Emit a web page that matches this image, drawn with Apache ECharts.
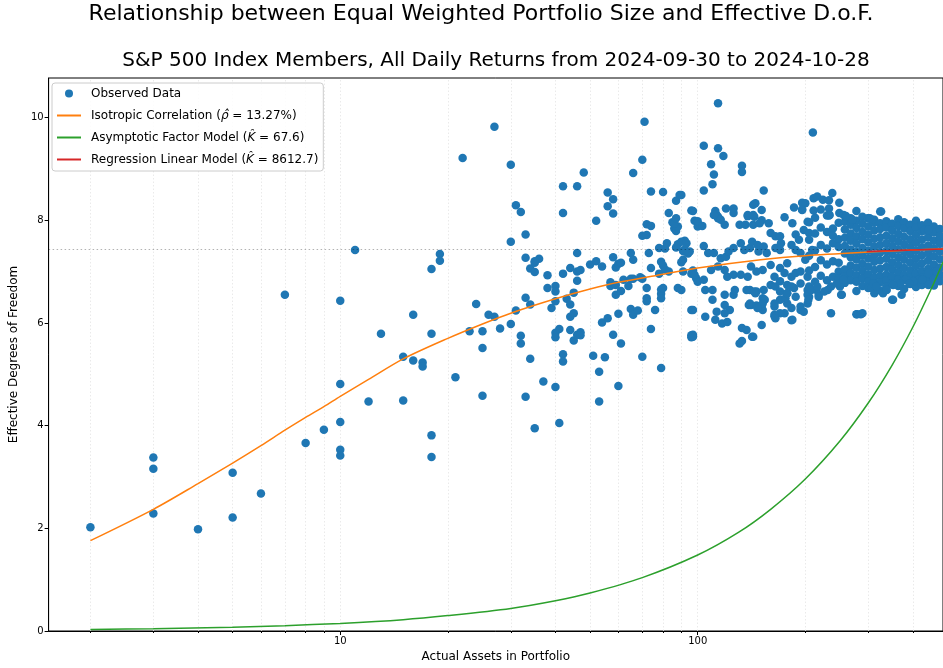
<!DOCTYPE html>
<html>
<head>
<meta charset="utf-8">
<title>Portfolio size vs effective degrees of freedom</title>
<script src="https://cdn.jsdelivr.net/npm/echarts@6/dist/echarts.min.js"></script>
<style>
  html, body { margin: 0; padding: 0; background: #fff; }
  #chart { width: 943px; height: 668px; }
</style>
</head>
<body>
<div id="chart"></div>
<script>
// -- observed points, [portfolio size, effective d.o.f.] --
let smallPortfolios = [
  [2, 2.02], [3, 3.38], [3, 3.16], [3, 2.29], [4, 1.98], [5, 3.08], [5, 2.21], [6, 2.68], [7, 6.55],
  [8, 3.66], [9, 3.92], [10, 6.43], [10, 4.81], [10, 4.07], [10, 3.53], [10, 3.42],
  [11, 7.42], [12, 4.47], [13, 5.79], [15, 5.34], [15, 4.49], [16, 6.16], [16, 5.27], [17, 5.23], [17, 5.15],
  [18, 7.05], [18, 5.79], [18, 3.81], [18, 3.39], [19, 7.34], [19, 7.21], [21, 4.94], [22, 9.21], [23, 5.84],
  [24, 6.37], [25, 5.84], [25, 5.51], [25, 4.58], [26, 6.16], [27, 6.12], [27, 9.82], [28, 5.89],
  [30, 9.08], [30, 7.58], [30, 5.98]
];

let midPortfolios = [
  [31, 8.29], [32, 8.16], [31, 6.24], [32, 5.75], [32, 5.60], [33, 7.72], [33, 7.27], [34, 7.06], [35, 7.17],
  [35, 6.99], [36, 7.25], [35, 7.20], [33, 6.49], [34, 6.36], [34, 5.30], [33, 4.56], [35, 3.95], [37, 4.86],
  [38, 6.93], [38, 6.68], [39, 6.29], [40, 6.72], [40, 6.61], [40, 6.42], [40, 5.81], [40, 5.72], [41, 5.88],
  [40, 4.75], [41, 4.05], [42, 8.66], [42, 8.14], [42, 6.96], [42, 5.39], [42, 5.25], [43, 6.47], [44, 6.36],
  [44, 7.07], [44, 6.12], [45, 6.19], [44, 5.86], [45, 6.59], [45, 5.66], [46, 8.66], [46, 7.36], [46, 7.00],
  [47, 7.03], [46, 6.82], [46, 5.77], [47, 5.82], [47, 5.76], [48, 8.93], [50, 7.14], [51, 5.36], [52, 7.99],
  [52, 7.20], [53, 5.05], [53, 4.47], [54, 7.10], [54, 6.01], [56, 6.09], [55, 5.33], [56, 8.54], [56, 8.27],
  [57, 6.79], [57, 6.72], [58, 8.41], [58, 8.13], [58, 7.28], [58, 5.77], [59, 7.08], [60, 7.15], [61, 7.17],
  [59, 6.74], [59, 6.55], [60, 6.18], [60, 4.77], [61, 5.60], [61, 6.62], [62, 6.84], [64, 6.72], [65, 6.86],
  [65, 7.36], [65, 6.27], [66, 6.16], [68, 6.24], [66, 8.92], [66, 7.23], [66, 6.86], [69, 6.89], [70, 6.86],
  [70, 9.18], [71, 9.92], [70, 5.34], [70, 7.70], [72, 7.71], [72, 7.92], [74, 7.89], [73, 7.36], [72, 6.68],
  [72, 6.48], [72, 6.42], [74, 8.56], [74, 7.07], [74, 5.88], [76, 6.25], [78, 7.46], [79, 7.19], [80, 7.12],
  [78, 6.96], [79, 6.65], [79, 6.57], [79, 6.48], [79, 5.12], [80, 8.55], [80, 6.68], [81, 7.45], [82, 7.55],
  [81, 7.04], [83, 7.00], [83, 8.14], [85, 7.96], [86, 7.84], [87, 7.79], [88, 7.88], [86, 7.93], [87, 8.38],
  [89, 8.49], [87, 8.04], [87, 7.47], [88, 7.53], [91, 7.40], [92, 7.43], [94, 7.35], [92, 7.60], [88, 6.68],
  [90, 7.18], [91, 7.00], [96, 8.19], [98, 7.99], [96, 6.96], [97, 7.02], [99, 6.87], [96, 6.25], [96, 5.76],
  [96, 5.72]
];

let largePortfolios = [
  [114, 10.28], [210, 9.71], [104, 9.45], [114, 9.40], [118, 9.25], [109, 9.09], [133, 9.06], [133, 8.94],
  [111, 8.89], [110, 8.70], [104, 8.58], [153, 8.58], [90, 8.49], [145, 8.33], [143, 8.30], [97, 8.18],
  [112, 8.18], [113, 8.10], [114, 8.07], [120, 8.23], [126, 8.23], [126, 8.14], [151, 8.20], [186, 8.25],
  [196, 8.20], [200, 8.33], [138, 8.08], [144, 8.07], [175, 8.06], [100, 7.88], [100, 6.80],
  [114, 8.04], [119, 7.91], [116, 8.01], [111, 8.10], [100, 7.98], [103, 7.89], [138, 8.10], [143, 8.10],
  [151, 8.00], [131, 7.91], [136, 7.91], [143, 7.91], [149, 7.94], [158, 7.94], [160, 7.75], [165, 7.69],
  [170, 7.69], [184, 7.94], [188, 7.72], [192, 7.62], [198, 7.81], [205, 7.75],
  [90, 7.58], [93, 7.55], [95, 7.39], [92, 7.39], [91, 7.23],
  [104, 7.50], [107, 7.36], [111, 7.36], [116, 7.26], [120, 7.29], [122, 7.39], [126, 7.46], [132, 7.55],
  [135, 7.42], [140, 7.46], [142, 7.58], [148, 7.39], [147, 7.52], [153, 7.49], [156, 7.36], [165, 7.46],
  [170, 7.42], [171, 7.55], [183, 7.52], [188, 7.42], [194, 7.36], [200, 7.23], [209, 7.42],
  [98, 6.94], [104, 6.84], [109, 7.03], [114, 7.10], [119, 7.03], [121, 6.90], [126, 6.94], [132, 6.94],
  [138, 6.90], [141, 7.10], [146, 7.00], [152, 7.03], [160, 7.13], [164, 6.90], [170, 7.07], [178, 7.16],
  [175, 6.97], [183, 6.90], [188, 6.97], [194, 7.00], [203, 6.90],
  [105, 6.64], [110, 6.64], [119, 6.55], [126, 6.55], [127, 6.64], [140, 6.64], [146, 6.61], [152, 6.48],
  [160, 6.74], [165, 6.71], [170, 6.61], [178, 6.58], [186, 6.68], [194, 6.77], [203, 6.64], [170, 6.81],
  [178, 6.74], [110, 6.45], [119, 6.35], [123, 6.25], [141, 6.35], [152, 6.25], [164, 6.32], [170, 6.45],
  [178, 6.38], [194, 6.25], [112, 6.06], [117, 5.99], [121, 6.02], [133, 5.90], [137, 5.86], [151, 5.96],
  [90, 6.64], [97, 6.25], [105, 6.12], [97, 5.77], [131, 5.60], [142, 5.73], [97, 5.73], [133, 5.65],
  [119, 6.19], [113, 6.22], [139, 6.35], [147, 6.32], [151, 6.33], [145, 6.58], [153, 6.64], [154, 6.45],
  [164, 6.38], [175, 6.19], [183, 6.29], [164, 6.13], [170, 6.19], [184, 6.06],
  [137, 6.64], [144, 6.61], [140, 6.38], [146, 6.34], [152, 6.38], [147, 6.29], [164, 6.16], [165, 6.09],
  [176, 6.48], [178, 6.58], [183, 6.71], [188, 6.51], [198, 6.22], [203, 6.38], [205, 6.51], [183, 6.05],
  [143, 5.73], [196, 8.34], [196, 8.21], [203, 7.97]
];

// dense cluster of the biggest portfolios, one row per size
let clusterSizes = [205, 213, 221, 230, 239, 248, 258, 268, 278, 289, 300, 312,
                    324, 337, 350, 364, 378, 393, 408, 424, 441, 458, 476, 492];
let clusterDof = [
  [7.96, 7.62, 7.31, 7.02, 6.71],
  [8.05, 7.74, 7.41, 7.09, 6.80],
  [7.86, 7.52, 7.22, 6.92],
  [8.09, 7.77, 7.45, 7.14, 6.83],
  [7.84, 7.70, 7.55, 7.20, 6.90],
  [7.95, 7.63, 7.48, 7.17, 7.00, 6.86],
  [7.97, 7.82, 7.66, 7.50, 7.35, 7.04, 6.91, 6.78],
  [8.04, 7.91, 7.74, 7.60, 7.43, 7.28, 7.12, 6.97, 6.83],
  [8.18, 7.99, 7.85, 7.69, 7.54, 7.38, 7.24, 7.08, 6.93, 6.80, 6.62, 6.17],
  [8.07, 7.93, 7.77, 7.63, 7.46, 7.31, 7.15, 7.01, 6.87, 6.72, 6.19],
  [8.04, 7.88, 7.72, 7.57, 7.41, 7.26, 7.10, 6.95, 6.81, 6.68],
  [8.01, 7.95, 7.80, 7.64, 7.49, 7.33, 7.19, 7.03, 6.89, 6.76, 6.58],
  [8.17, 7.94, 7.83, 7.67, 7.52, 7.37, 7.22, 7.06, 6.92, 6.79, 6.63],
  [7.98, 7.86, 7.70, 7.55, 7.40, 7.25, 7.09, 6.94, 6.83, 6.70],
  [7.93, 7.80, 7.65, 7.50, 7.34, 7.18, 7.04, 6.90, 6.77, 6.45],
  [8.02, 7.89, 7.73, 7.58, 7.43, 7.28, 7.13, 6.98, 6.85, 6.72],
  [7.96, 7.84, 7.68, 7.53, 7.38, 7.23, 7.07, 6.93, 6.84, 6.66],
  [7.91, 7.79, 7.63, 7.48, 7.33, 7.17, 7.02, 6.89, 6.76],
  [7.99, 7.86, 7.71, 7.56, 7.41, 7.26, 7.11, 6.96, 6.82, 6.70],
  [7.90, 7.78, 7.62, 7.47, 7.32, 7.16, 7.01, 6.88, 6.74],
  [7.95, 7.81, 7.67, 7.51, 7.36, 7.21, 7.05, 6.92, 6.79],
  [7.88, 7.76, 7.60, 7.45, 7.30, 7.14, 6.99, 6.86, 6.73],
  [7.83, 7.65, 7.70, 7.54, 7.39, 7.24, 7.08, 6.94, 6.81],
  [7.92, 7.73, 7.58, 7.42, 7.27, 7.12, 6.97, 6.84]
];
let clusterFringe = [
  [211, 8.43], [216, 8.46], [224, 8.40], [233, 8.39], [238, 8.53], [249, 8.34], [221, 8.21], [233, 8.23],
  [233, 8.09], [249, 8.14], [256, 8.10], [260, 8.08], [271, 8.01], [300, 8.04], [307, 8.01], [326, 8.17],
  [211, 8.19], [234, 8.10], [303, 8.04], [430, 7.81], [442, 7.81],
  [194, 6.32], [203, 6.55], [215, 6.64], [231, 6.64], [236, 6.19], [253, 6.55], [250, 6.71], [279, 6.17],
  [286, 6.17], [307, 6.68], [310, 6.77], [330, 6.58], [352, 6.45], [382, 6.84], [415, 6.84], [442, 6.74],
  [208, 6.64], [216, 6.71], [218, 6.55], [226, 6.61], [236, 6.71], [245, 6.77], [252, 6.55], [256, 6.84],
  [316, 6.71], [369, 6.77], [401, 6.81], [425, 6.84], [442, 6.97], [465, 7.00], [352, 6.74], [372, 6.55],
  [391, 6.77], [338, 6.64], [204, 6.45], [218, 6.51]
];

// -- model curves --
let isoSizes = [2, 3, 4, 5, 6, 7, 8, 9, 10, 12, 15, 20, 25, 30, 40, 50, 60, 80, 100, 150, 200, 300, 400, 486];
let isoDof = [1.76, 2.37, 2.87, 3.27, 3.61, 3.91, 4.16, 4.37, 4.57, 4.90, 5.30, 5.70, 5.98, 6.19, 6.47,
              6.66, 6.79, 6.95, 7.07, 7.23, 7.31, 7.38, 7.42, 7.44];
let factorSizes = [2, 3, 5, 7, 10, 15, 20, 30, 40, 50, 70, 100, 130, 160, 200, 250, 300, 350, 400, 450, 486];
let factorDof = [0.03, 0.044, 0.074, 0.104, 0.148, 0.22, 0.30, 0.44, 0.59, 0.74, 1.04, 1.48, 1.92, 2.37,
                 2.96, 3.70, 4.44, 5.18, 5.92, 6.66, 7.19];
let regressionSizes = [297, 486];
let regressionDof = [7.39, 7.44];
let asymptoteDof = 7.44;

// -- axis ticks --
let majorTicks = [10, 100];
let minorTicks = [2, 3, 4, 5, 6, 7, 8, 9, 20, 30, 40, 50, 60, 70, 80, 90, 200, 300, 400];
let yTicks = [0, 2, 4, 6, 8, 10];

let FONT = '"DejaVu Sans", "Liberation Sans", sans-serif';

function zip(xs, ys) {
  let out = [];
  xs.forEach(function (x, i) {
    out.push([x, ys[i]]);
  });
  return out;
}

let clusterPoints = [];
clusterSizes.forEach(function (n, i) {
  clusterDof[i].forEach(function (v) {
    clusterPoints.push([n, v]);
  });
});
let observed = smallPortfolios.concat(midPortfolios, largePortfolios, clusterPoints, clusterFringe);

let legendLabels = {
  'Observed Data': 'Observed Data',
  'Isotropic Correlation': 'Isotropic Correlation ({m|ρ̂} = 13.27%)',
  'Asymptotic Factor Model': 'Asymptotic Factor Model ({m|K̂} = 67.6)',
  'Regression Linear Model': 'Regression Linear Model ({m|K̂} = 8612.7)'
};

// line entries in the legend: just the stroke, no marker
function lineEntry(name) {
  return {name: name, itemStyle: {opacity: 0}};
}

let xMin = 1.528;
let xMax = 485.6;

let option = {
  animation: false,
  backgroundColor: '#fff',
  textStyle: {fontFamily: FONT},
  graphic: [
    {
      type: 'text', x: 481, y: 3,
      style: {
        text: 'Relationship between Equal Weighted Portfolio Size and Effective D.o.F.',
        font: '22px ' + FONT, fill: '#000', align: 'center', verticalAlign: 'top'
      }
    },
    {
      type: 'text', x: 496, y: 51,
      style: {
        text: 'S&P 500 Index Members, All Daily Returns from 2024-09-30 to 2024-10-28',
        font: '20px ' + FONT, fill: '#000', align: 'center', verticalAlign: 'top'
      }
    }
  ],
  grid: {
    left: 46, right: 0, top: 78, bottom: 37,
    show: true, borderColor: '#000', borderWidth: 1, backgroundColor: 'transparent'
  },
  legend: {
    orient: 'vertical',
    left: 52, top: 83,
    padding: [3, 5, 4, 4],
    itemWidth: 24, itemHeight: 8, itemGap: 7,
    backgroundColor: 'rgba(255,255,255,0.85)',
    borderColor: '#cccccc', borderWidth: 1, borderRadius: 3,
    data: [
      {name: 'Observed Data'},
      lineEntry('Isotropic Correlation'),
      lineEntry('Asymptotic Factor Model'),
      lineEntry('Regression Linear Model')
    ],
    formatter: function (name) {
      return legendLabels[name];
    },
    textStyle: {
      fontFamily: FONT, fontSize: 12, color: '#000', lineHeight: 15,
      padding: [0, 0, 0, 5],
      rich: {m: {fontFamily: FONT, fontSize: 12, fontStyle: 'italic', color: '#000'}}
    }
  },
  xAxis: [
    {
      type: 'log', logBase: 10, min: xMin, max: xMax,
      name: 'Actual Assets in Portfolio', nameLocation: 'middle', nameGap: 19,
      nameTextStyle: {fontFamily: FONT, fontSize: 12, color: '#000'},
      axisLine: {lineStyle: {color: '#000', width: 1}},
      axisTick: {customValues: majorTicks, length: 4, lineStyle: {color: '#000'}},
      axisLabel: {customValues: majorTicks, fontSize: 10, color: '#000', margin: 5, fontFamily: FONT},
      splitLine: {show: false}
    },
    {
      type: 'log', logBase: 10, min: xMin, max: xMax, position: 'bottom',
      axisLine: {show: false},
      axisTick: {customValues: minorTicks, length: 2, lineStyle: {color: '#000'}},
      axisLabel: {show: false},
      splitLine: {show: false}
    }
  ],
  yAxis: {
    type: 'value', min: 0, max: 10.77,
    name: 'Effective Degrees of Freedom', nameLocation: 'middle', nameGap: 25,
    nameTextStyle: {fontFamily: FONT, fontSize: 12, color: '#000'},
    axisLine: {show: true, lineStyle: {color: '#000', width: 1}},
    axisTick: {customValues: yTicks, length: 4, lineStyle: {color: '#000'}},
    axisLabel: {customValues: yTicks, fontSize: 10, color: '#000', margin: 5, fontFamily: FONT},
    splitLine: {show: false}
  },
  series: [
    {
      // vertical grid at every decade step, below the points
      name: 'grid', type: 'line', data: [], z: 1, silent: true,
      markLine: {
        silent: true, z: 1, symbol: ['none', 'none'], label: {show: false},
        lineStyle: {color: '#e4e4e4', type: [1.5, 2], width: 0.8},
        data: majorTicks.concat(minorTicks).map(function (v) {
          return {xAxis: v};
        })
      }
    },
    {
      name: 'Observed Data', type: 'scatter', z: 2,
      symbol: 'circle', symbolSize: 8.5,
      itemStyle: {color: '#1f77b4', opacity: 1},
      data: observed
    },
    {
      name: 'asymptote', type: 'line', data: [], z: 3, silent: true,
      markLine: {
        silent: true, z: 3, symbol: ['none', 'none'], label: {show: false},
        lineStyle: {color: 'rgba(0,0,0,0.3)', type: [1.5, 2.5], width: 1.2},
        data: [{yAxis: asymptoteDof}]
      }
    },
    {
      name: 'Isotropic Correlation', type: 'line', z: 4,
      symbol: 'none', smooth: 0.3,
      lineStyle: {color: '#ff7f0e', width: 1.5}, itemStyle: {color: '#ff7f0e'},
      data: zip(isoSizes, isoDof)
    },
    {
      name: 'Asymptotic Factor Model', type: 'line', z: 5,
      symbol: 'none', smooth: 0.3,
      lineStyle: {color: '#2ca02c', width: 1.5}, itemStyle: {color: '#2ca02c'},
      data: zip(factorSizes, factorDof)
    },
    {
      name: 'Regression Linear Model', type: 'line', z: 6,
      symbol: 'none',
      lineStyle: {color: '#d62728', width: 1.5}, itemStyle: {color: '#d62728'},
      data: zip(regressionSizes, regressionDof)
    }
  ]
};

let myChart = echarts.init(document.getElementById('chart'), null, {renderer: 'canvas'});
myChart.setOption(option);
</script>
</body>
</html>
